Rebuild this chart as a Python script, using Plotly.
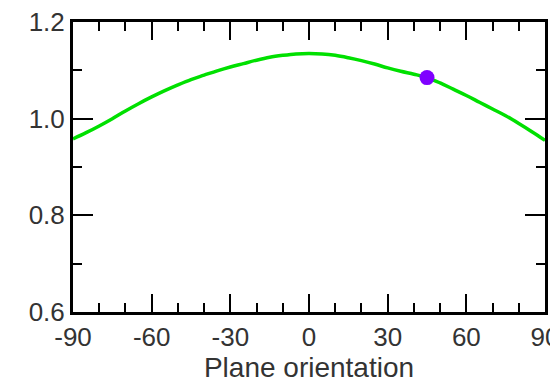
import plotly.graph_objects as go

angles = [-90, -85, -80, -75, -70, -65, -60, -55, -50, -45, -40, -35, -30, -25, -20,
          -15, -10, -5, 0, 5, 10, 15, 20, 25, 30, 35, 40, 45, 50, 55, 60, 65, 70,
          75, 80, 85, 90]
ratio = [0.958, 0.971, 0.985, 1.000, 1.016, 1.031, 1.045, 1.058, 1.070, 1.081,
         1.090, 1.099, 1.107, 1.114, 1.121, 1.127, 1.131, 1.134, 1.135, 1.134,
         1.131, 1.126, 1.120, 1.113, 1.105, 1.098, 1.092, 1.085, 1.074, 1.061,
         1.048, 1.034, 1.020, 1.006, 0.990, 0.973, 0.955]

point_x = [45]
point_y = [1.085]

x_ticks = [-90, -60, -30, 0, 30, 60, 90]
x_tick_labels = ["-90", "-60", "-30", "0", "30", "60", "90"]
y_ticks = [0.6, 0.8, 1.0, 1.2]
y_tick_labels = ["0.6", "0.8", "1.0", "1.2"]

FONT = "Liberation Sans, Arial, sans-serif"

fig = go.Figure()
fig.add_trace(go.Scatter(x=angles, y=ratio, mode="lines",
                         line=dict(color="#00e000", width=3.5, shape="spline"),
                         hoverinfo="skip", showlegend=False))
fig.add_trace(go.Scatter(x=point_x, y=point_y, mode="markers",
                         marker=dict(color="#7f00ff", size=15),
                         showlegend=False))

axis_common = dict(
    showline=True, linecolor="black", linewidth=3, mirror="allticks",
    ticks="inside", tickcolor="black", tickwidth=2,
    showgrid=False, zeroline=False, automargin=False,
    ticklabeloverflow="allow",
    tickfont=dict(family=FONT, size=26, color="#333"),
)

fig.update_xaxes(range=[-90, 90], tickvals=x_ticks, ticktext=x_tick_labels,
                 ticklen=18,
                 minor=dict(dtick=10, tick0=0, ticks="inside", ticklen=9,
                            tickwidth=2, tickcolor="black"),
                 title=dict(text="Plane orientation", standoff=0,
                            font=dict(family=FONT, size=28, color="#333")),
                 **axis_common)
fig.update_yaxes(range=[0.6, 1.2], tickvals=y_ticks, ticktext=y_tick_labels,
                 ticklen=20,
                 minor=dict(dtick=0.1, tick0=0.6, ticks="inside", ticklen=9,
                            tickwidth=2, tickcolor="black"),
                 **axis_common)

# page body has an 8px margin, so the figure is sized to end at the window edge
fig.update_layout(width=550, height=377,
                  margin=dict(l=65, r=13, t=14, b=73),
                  paper_bgcolor="white", plot_bgcolor="white")

fig.write_html("out.html")
